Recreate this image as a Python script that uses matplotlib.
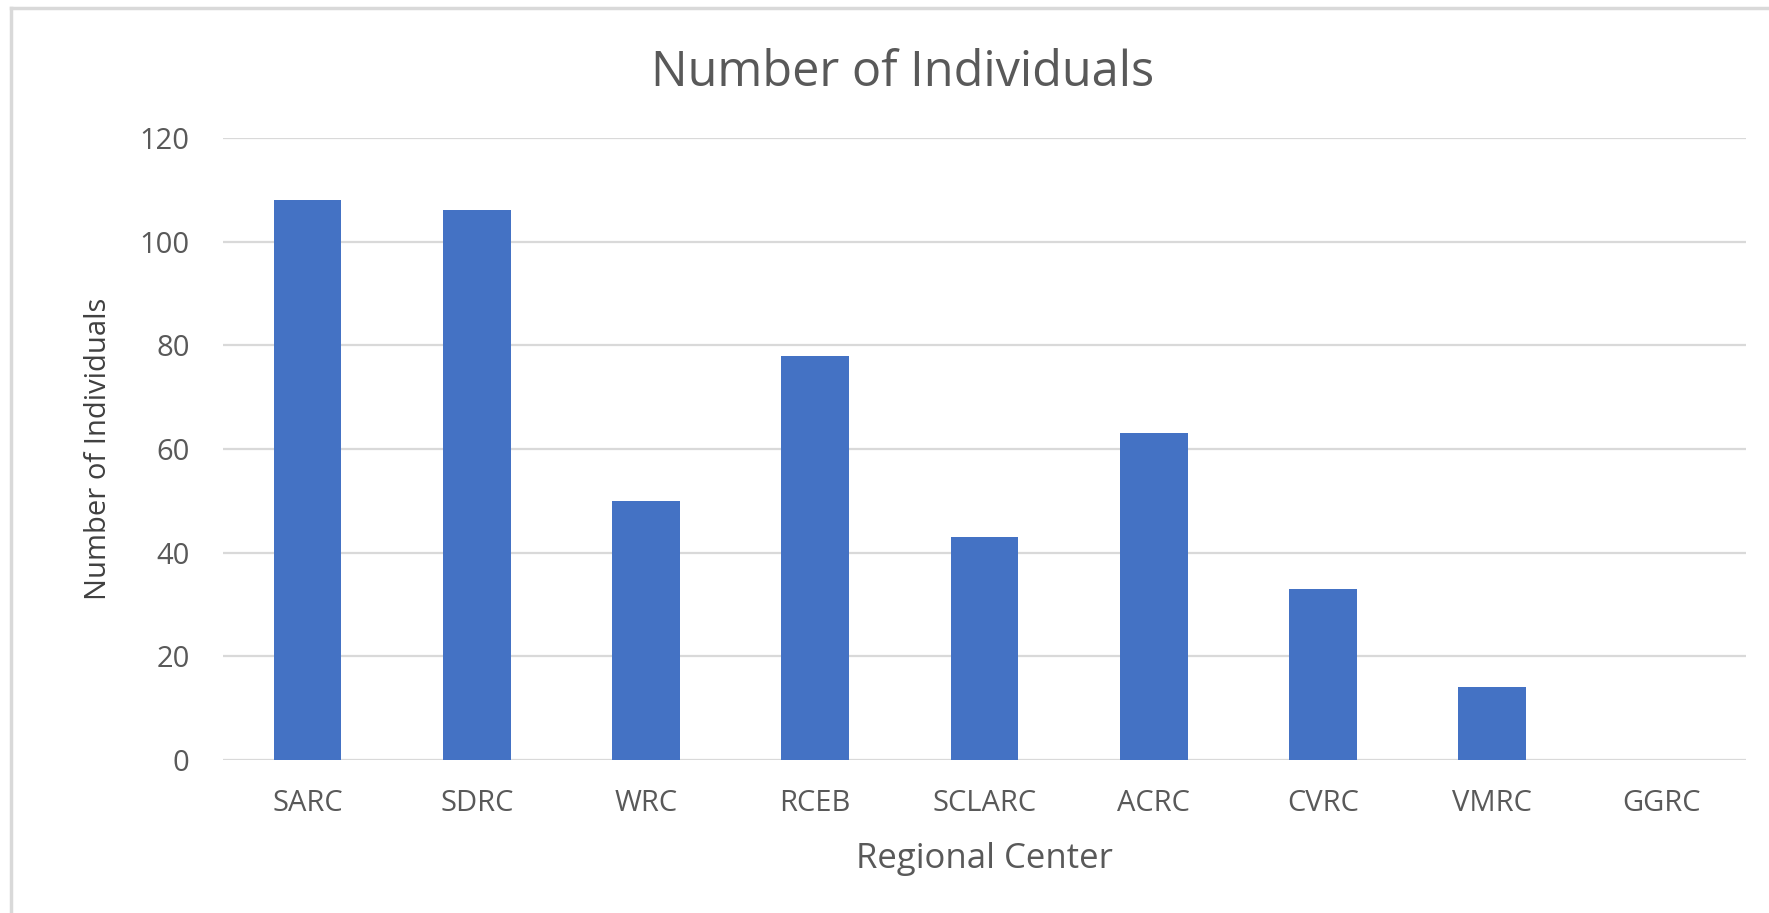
import numpy as np
import matplotlib.pyplot as plt
from matplotlib.lines import Line2D

# Datos
centros = ['SARC', 'SDRC', 'WRC', 'RCEB', 'SCLARC', 'ACRC', 'CVRC', 'VMRC', 'GGRC']
individuos = [108, 106, 50, 78, 43, 63, 33, 14, 0]
yticks = [0, 20, 40, 60, 80, 100, 120]

plt.rcParams['font.family'] = ['Open Sans', 'DejaVu Sans']
gris = '#595959'

fig = plt.figure(figsize=(17.69, 9.13), dpi=100)
ax = fig.add_axes([0.126, 0.1676, 0.861, 0.6814])

x = np.arange(len(centros))
ax.bar(x, individuos, width=0.4, color='#4472C4', zorder=3)

ax.set_xlim(-0.5, len(centros) - 0.5)
ax.set_ylim(0, 120)
ax.set_yticks(yticks)
ax.set_xticks(x)
ax.set_xticklabels(centros)
ax.tick_params(axis='both', length=0, labelsize=21, colors=gris)
ax.tick_params(axis='x', pad=21)
ax.tick_params(axis='y', pad=24)
ax.grid(axis='y', color='#d9d9d9', linewidth=1.6, zorder=0)
for s in ax.spines.values():
    s.set_visible(False)

ax.set_xlabel('Regional Center', fontsize=25, color=gris, labelpad=17)
ax.set_ylabel('Number of Individuals', fontsize=21, color='#404040', labelpad=19)
fig.text(0.51, 0.906, 'Number of Individuals', fontsize=35, color=gris,
         ha='center', va='baseline')

# Borde del gráfico (solo arriba e izquierda visibles)
fig.add_artist(Line2D([0.0065, 0.0065], [0, 0.991], transform=fig.transFigure,
                      color='#d9d9d9', linewidth=2.5))
fig.add_artist(Line2D([0.0065, 1], [0.991, 0.991], transform=fig.transFigure,
                      color='#d9d9d9', linewidth=2.5))

fig.savefig('out.png', dpi=100, facecolor='white')
